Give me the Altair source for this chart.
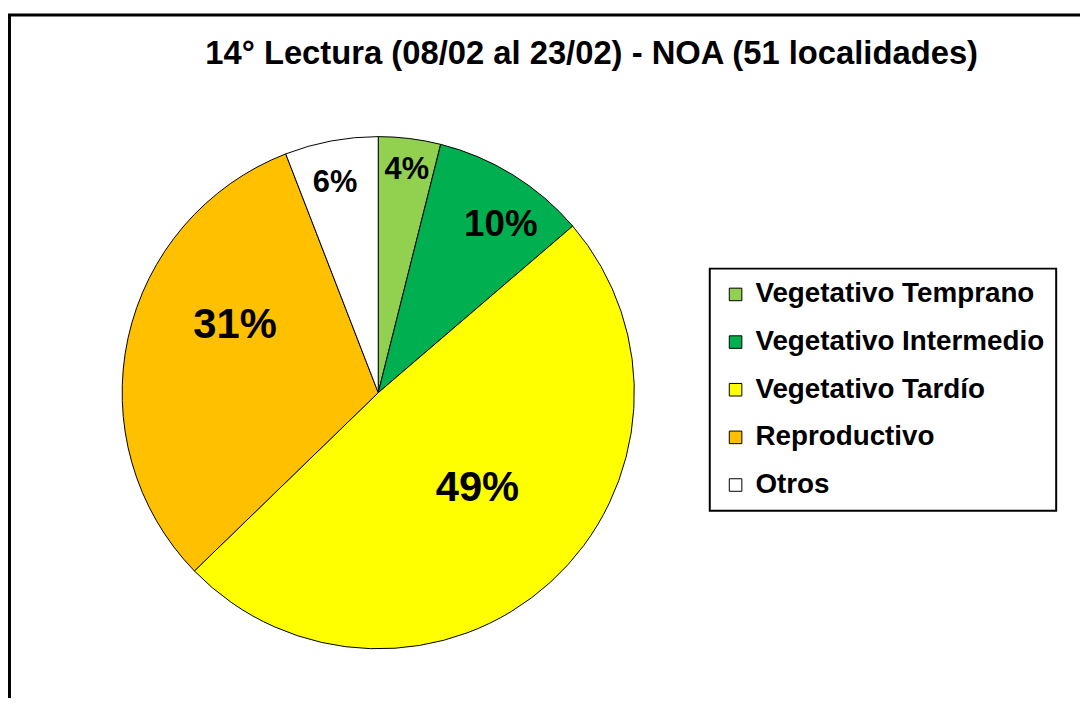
import altair as alt
import pandas as pd

# ---- data ----
categories = ["Vegetativo Temprano", "Vegetativo Intermedio", "Vegetativo Tardío", "Reproductivo", "Otros"]
counts = [2, 5, 25, 16, 3]          # out of 51 localidades
labels = ["4%", "10%", "49%", "31%", "6%"]
colors = ["#92D050", "#00B050", "#FFFF00", "#FFC000", "#FFFFFF"]
title_text = "14° Lectura (08/02 al 23/02) - NOA (51 localidades)"

FONT = "Liberation Sans"
W, H = 1080, 690
CX, CY, R = 373, 385, 258
total = sum(counts)

df = pd.DataFrame({"cat": categories, "n": counts, "label": labels,
                   "idx": list(range(len(categories)))})

base = alt.Chart(df).transform_window(
    cum="sum(n)", sort=[alt.SortField("idx")], frame=[None, 0]
).transform_calculate(
    start="datum.cum - datum.n", mid="datum.cum - datum.n / 2"
)

theta_scale = alt.Scale(domain=[0, total])

pie = base.mark_arc(outerRadius=R, stroke="black", strokeWidth=1).encode(
    theta=alt.Theta("start:Q", scale=theta_scale, stack=False),
    theta2="cum:Q",
    fill=alt.Fill(
        "cat:N",
        scale=alt.Scale(domain=categories, range=colors),
        sort=categories,
        legend=alt.Legend(
            title=None, orient="none", legendX=707, legendY=260,
            padding=12, strokeColor="black",
            symbolType="square", symbolSize=160, symbolStrokeColor="black",
            symbolStrokeWidth=1, symbolOpacity=1,
            labelFont=FONT, labelFontSize=28, labelFontWeight="bold",
            labelColor="black", labelLimit=0, labelOffset=6, rowPadding=20,
        ),
    ),
    x=alt.value(CX),
    y=alt.value(CY),
)


def label_layer(cat, radius, size, dx, dy):
    return base.transform_filter(alt.datum.cat == cat).mark_text(
        radius=radius, fontSize=size, fontWeight="bold", font=FONT,
        dx=dx, dy=dy, align="center", baseline="middle", color="black",
    ).encode(
        theta=alt.Theta("mid:Q", scale=theta_scale, stack=False),
        text="label:N",
        x=alt.value(CX),
        y=alt.value(CY),
    )


texts = [
    label_layer("Vegetativo Temprano", 226, 31, 1, 0),
    label_layer("Vegetativo Intermedio", 208, 37, 14, 8),
    label_layer("Vegetativo Tardío", 138, 42, 7, -6),
    label_layer("Reproductivo", 159, 42, 11, -34),
    label_layer("Otros", 215, 31, -4, 0),
]

border = alt.Chart(pd.DataFrame({"k": [0]})).mark_rect(
    filled=False, stroke="black", strokeWidth=3
).encode(
    x=alt.value(1.5), x2=alt.value(W + 50),
    y=alt.value(4.5), y2=alt.value(H + 50),
)

chart = alt.layer(border, pie, *texts).properties(
    width=W, height=H,
    autosize=alt.AutoSizeParams(type="none"),
    padding=0,
    title=alt.TitleParams(
        text=title_text, font=FONT, fontSize=33, fontWeight="bold",
        color="black", anchor="middle", frame="group", orient="top",
        offset=0, baseline="middle", dx=48, dy=77,
    ),
).configure_view(stroke=None).configure_legend(strokeWidth=2)

chart.save("out.html", embed_options={"renderer": "svg", "actions": False})
